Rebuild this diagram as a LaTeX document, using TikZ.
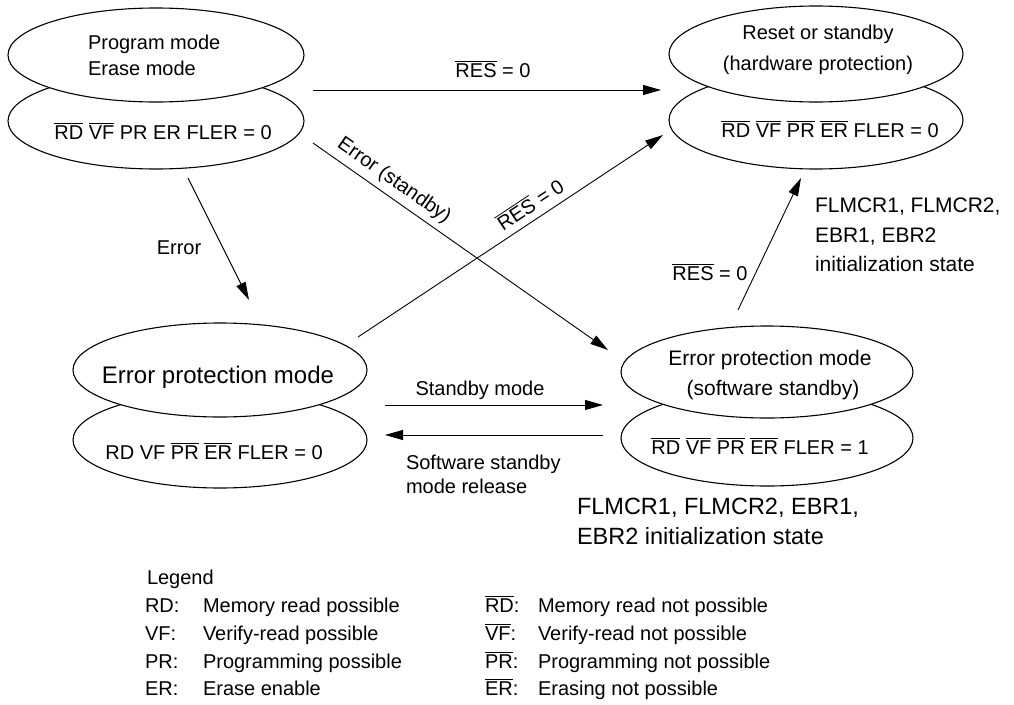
\documentclass[tikz,border=0pt]{standalone}
\usepackage{fontspec}
\setmainfont{Liberation Sans}
\usetikzlibrary{arrows.meta,shapes.geometric}
\newcommand\olbar[1]{\leavevmode\vbox{\hrule height 0.8pt\kern 1.6pt\hbox{#1}}}
\begin{document}
\begin{tikzpicture}[x=1pt,y=-1pt,
  every node/.style={inner sep=0pt, outer sep=0pt},
  ell/.style={draw, ellipse, line width=1.1pt, fill=white},
  t20/.style={font=\fontsize{20}{24}\selectfont, anchor=base},
  t21/.style={font=\fontsize{21}{25}\selectfont, anchor=base},
  t24/.style={font=\fontsize{24}{28}\selectfont, anchor=base},
  leg/.style={font=\fontsize{20}{24}\selectfont, anchor=base west},
  conn/.style={line width=0.9pt, -{Triangle[length=18pt,width=10pt]}}]
\useasboundingbox (0,0) rectangle (1014,704);

% top-left group
\node[ell, minimum width=296pt, minimum height=96pt] (tlB) at (156,121) {};
\node[ell, minimum width=296pt, minimum height=94pt] (tlA) at (156,55) {};
\node[t20, anchor=base west] (tl1) at (88,49) {Program mode};
\node[t20, anchor=base west] (tl2) at (88,75) {Erase mode};
\node[t20] (tl3) at (163,139) {\olbar{RD} \olbar{VF} PR ER FLER = 0};

% top-right group
\node[ell, minimum width=294pt, minimum height=98pt] (trB) at (816,120) {};
\node[ell, minimum width=294pt, minimum height=96pt] (trA) at (816,54) {};
\node[t20] (tr1) at (818,39) {Reset or standby};
\node[t20] (tr2) at (818,70) {(hardware protection)};
\node[t20] (tr3) at (830,137) {\olbar{RD} \olbar{VF} \olbar{PR} \olbar{ER} FLER = 0};

% left-middle group
\node[ell, minimum width=294pt, minimum height=96pt] (lmB) at (220,440) {};
\node[ell, minimum width=294pt, minimum height=94pt] (lmA) at (220,370) {};
\node[t24] (lm1) at (218,383.5) {Error protection mode};
\node[t20] (lm2) at (214,459) {RD VF \olbar{PR} \olbar{ER} FLER = 0};

% right-middle group
\node[ell, minimum width=292pt, minimum height=96pt] (rmB) at (767,438) {};
\node[ell, minimum width=292pt, minimum height=92pt] (rmA) at (767,372) {};
\node[t21] (rm1) at (770,365.5) {Error protection mode};
\node[t21] (rm2) at (773,395.5) {(software standby)};
\node[t20] (rm3) at (760,454) {\olbar{RD} \olbar{VF} \olbar{PR} \olbar{ER} FLER = 1};

% connector end points
\coordinate (a1s) at (313,90);  \coordinate (a1e) at (661,90);
\coordinate (a2s) at (188,178); \coordinate (a2e) at (249,300);
\coordinate (a3s) at (313,143); \coordinate (a3e) at (608,350);
\coordinate (a4s) at (358,337); \coordinate (a4e) at (663,135);
\coordinate (a5s) at (385,405); \coordinate (a5e) at (603,405);
\coordinate (a6s) at (603,435); \coordinate (a6e) at (385,435);
\coordinate (a7s) at (738,310); \coordinate (a7e) at (801,178);

\draw[conn] (a1s) -- (a1e);
\draw[conn] (a2s) -- (a2e);
\draw[conn] (a3s) -- (a3e);
\draw[conn] (a4s) -- (a4e);
\draw[conn] (a5s) -- (a5e);
\draw[conn] (a6s) -- (a6e);
\draw[conn] (a7s) -- (a7e);

% connector labels
\node[t20] (l1) at (493,77) {\olbar{RES} = 0};
\node[t20] (l2) at (179,254) {Error};
\node[font=\fontsize{20}{24}\selectfont, rotate=-35] (l3) at (394,181) {Error (standby)};
\node[font=\fontsize{20}{24}\selectfont, rotate=33.5] (l4) at (530,204) {\olbar{RES} = 0};
\node[t20] (l5) at (480,395) {Standby mode};
\node[t20, anchor=base west] (l6a) at (406,469) {Software standby};
\node[t20, anchor=base west] (l6b) at (406,493) {mode release};
\node[t20] (l7) at (710,280) {\olbar{RES} = 0};

% annotations
\node[t21, anchor=base west] (n1) at (815,212.5) {FLMCR1, FLMCR2,};
\node[t21, anchor=base west] (n2) at (815,242.5) {EBR1, EBR2};
\node[t21, anchor=base west] (n3) at (815,271.5) {initialization state};
\node[font=\fontsize{23.5}{28}\selectfont, anchor=base west] (n4) at (577,514.5) {FLMCR1, FLMCR2, EBR1,};
\node[font=\fontsize{23.5}{28}\selectfont, anchor=base west] (n5) at (577,544.5) {EBR2 initialization state};

% legend
\node[leg] (lg) at (147,584) {Legend};
\node[leg] (k1) at (145,612) {RD:};
\node[leg] (d1) at (203,612) {Memory read possible};
\node[leg] (k2) at (145,640) {VF:};
\node[leg] (d2) at (203,640) {Verify-read possible};
\node[leg] (k3) at (145,668) {PR:};
\node[leg] (d3) at (203,668) {Programming possible};
\node[leg] (k4) at (145,695) {ER:};
\node[leg] (d4) at (203,695) {Erase enable};
\node[leg] (k5) at (485,612) {\olbar{RD}:};
\node[leg] (e1) at (538,612) {Memory read not possible};
\node[leg] (k6) at (485,640) {\olbar{VF}:};
\node[leg] (e2) at (538,640) {Verify-read not possible};
\node[leg] (k7) at (485,668) {\olbar{PR}:};
\node[leg] (e3) at (538,668) {Programming not possible};
\node[leg] (k8) at (485,695) {\olbar{ER}:};
\node[leg] (e4) at (538,695) {Erasing not possible};
\end{tikzpicture}
\end{document}
